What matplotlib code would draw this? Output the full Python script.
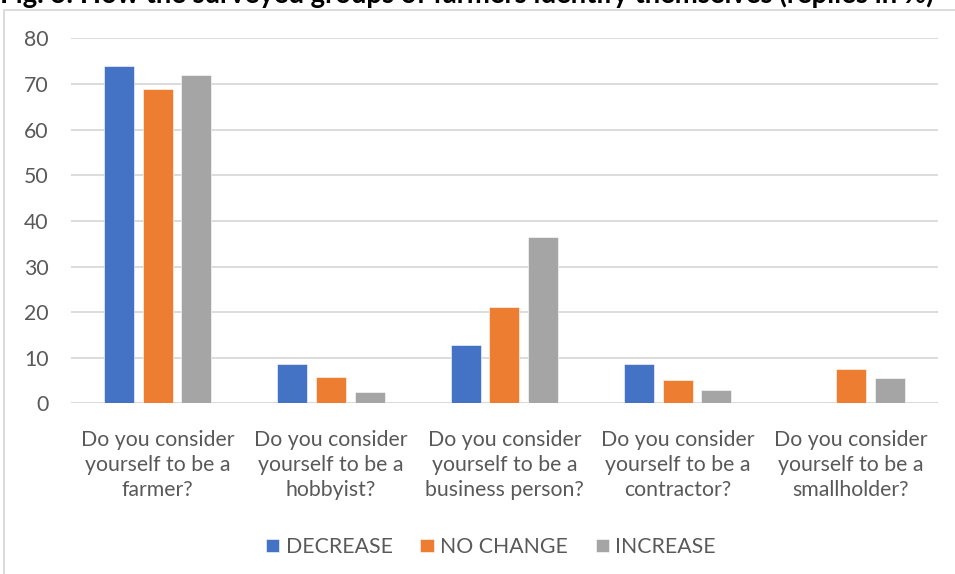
import numpy as np
import matplotlib
matplotlib.use('Agg')
import matplotlib.pyplot as plt
from matplotlib.patches import Rectangle

plt.rcParams['font.family'] = ['Lato', 'DejaVu Sans']

# survey answers per question, replies in %
questions = [
    'Do you consider\nyourself to be a\nfarmer?',
    'Do you consider\nyourself to be a\nhobbyist?',
    'Do you consider\nyourself to be a\nbusiness person?',
    'Do you consider\nyourself to be a\ncontractor?',
    'Do you consider\nyourself to be a\nsmallholder?',
]
decrease = [74.0, 8.6, 12.8, 8.6, 0.0]
no_change = [69.0, 5.7, 21.2, 5.2, 7.6]
increase = [72.0, 2.5, 36.4, 3.0, 5.6]
series_names = ['DECREASE', 'NO CHANGE', 'INCREASE']
y_ticks = [0, 10, 20, 30, 40, 50, 60, 70, 80]

colors = ['#4472C4', '#ED7D31', '#A5A5A5']
text_color = '#595959'
grid_color = '#D9D9D9'
fs = 15.3

W, H = 955, 574
fig = plt.figure(figsize=(W / 100, H / 100), dpi=100)

# chart frame (only top and left edges fall inside the image)
fig.patches.append(Rectangle((4 / W, -0.1), 1.2, 1 - 10 / H + 0.1,
                             transform=fig.transFigure, fill=False,
                             edgecolor=grid_color, linewidth=1.3))

fig.text(0, 1 - 3 / H, 'Fig. 3: How the surveyed groups of farmers identify themselves (replies in %)',
         fontsize=19.8, fontweight='bold', color='black', ha='left', va='baseline')

ax = fig.add_axes([71 / W, 1 - 403.4 / H, (937.7 - 71) / W, (403.4 - 38.4) / H])

x = np.arange(len(questions))
width = 0.173
step = 0.223
for i, (vals, name) in enumerate(zip([decrease, no_change, increase], series_names)):
    ax.bar(x + (i - 1) * step, vals, width, color=colors[i], label=name,
           edgecolor='white', linewidth=0.4, zorder=3)

ax.set_xlim(-0.5, len(questions) - 0.5)
ax.set_ylim(0, 80)
ax.set_yticks(y_ticks)
ax.set_xticks(x)
ax.set_xticklabels(questions, linespacing=1.32)
ax.yaxis.grid(True, color=grid_color, linewidth=1.3, zorder=0)
ax.set_axisbelow(True)
for s in ax.spines.values():
    s.set_visible(False)
ax.axhline(0, color=grid_color, linewidth=1.3, zorder=2)
ax.tick_params(axis='y', length=0, pad=16, labelsize=fs, labelcolor=text_color)
ax.tick_params(axis='x', length=0, pad=19, labelsize=fs, labelcolor=text_color)

fig.legend(loc='center', bbox_to_anchor=(491 / W, 1 - 547 / H), ncol=3, frameon=False,
           fontsize=fs, labelcolor=text_color, handlelength=0.62, handleheight=0.62,
           handletextpad=0.3, columnspacing=1.3)

fig.savefig('out.png', dpi=100)
